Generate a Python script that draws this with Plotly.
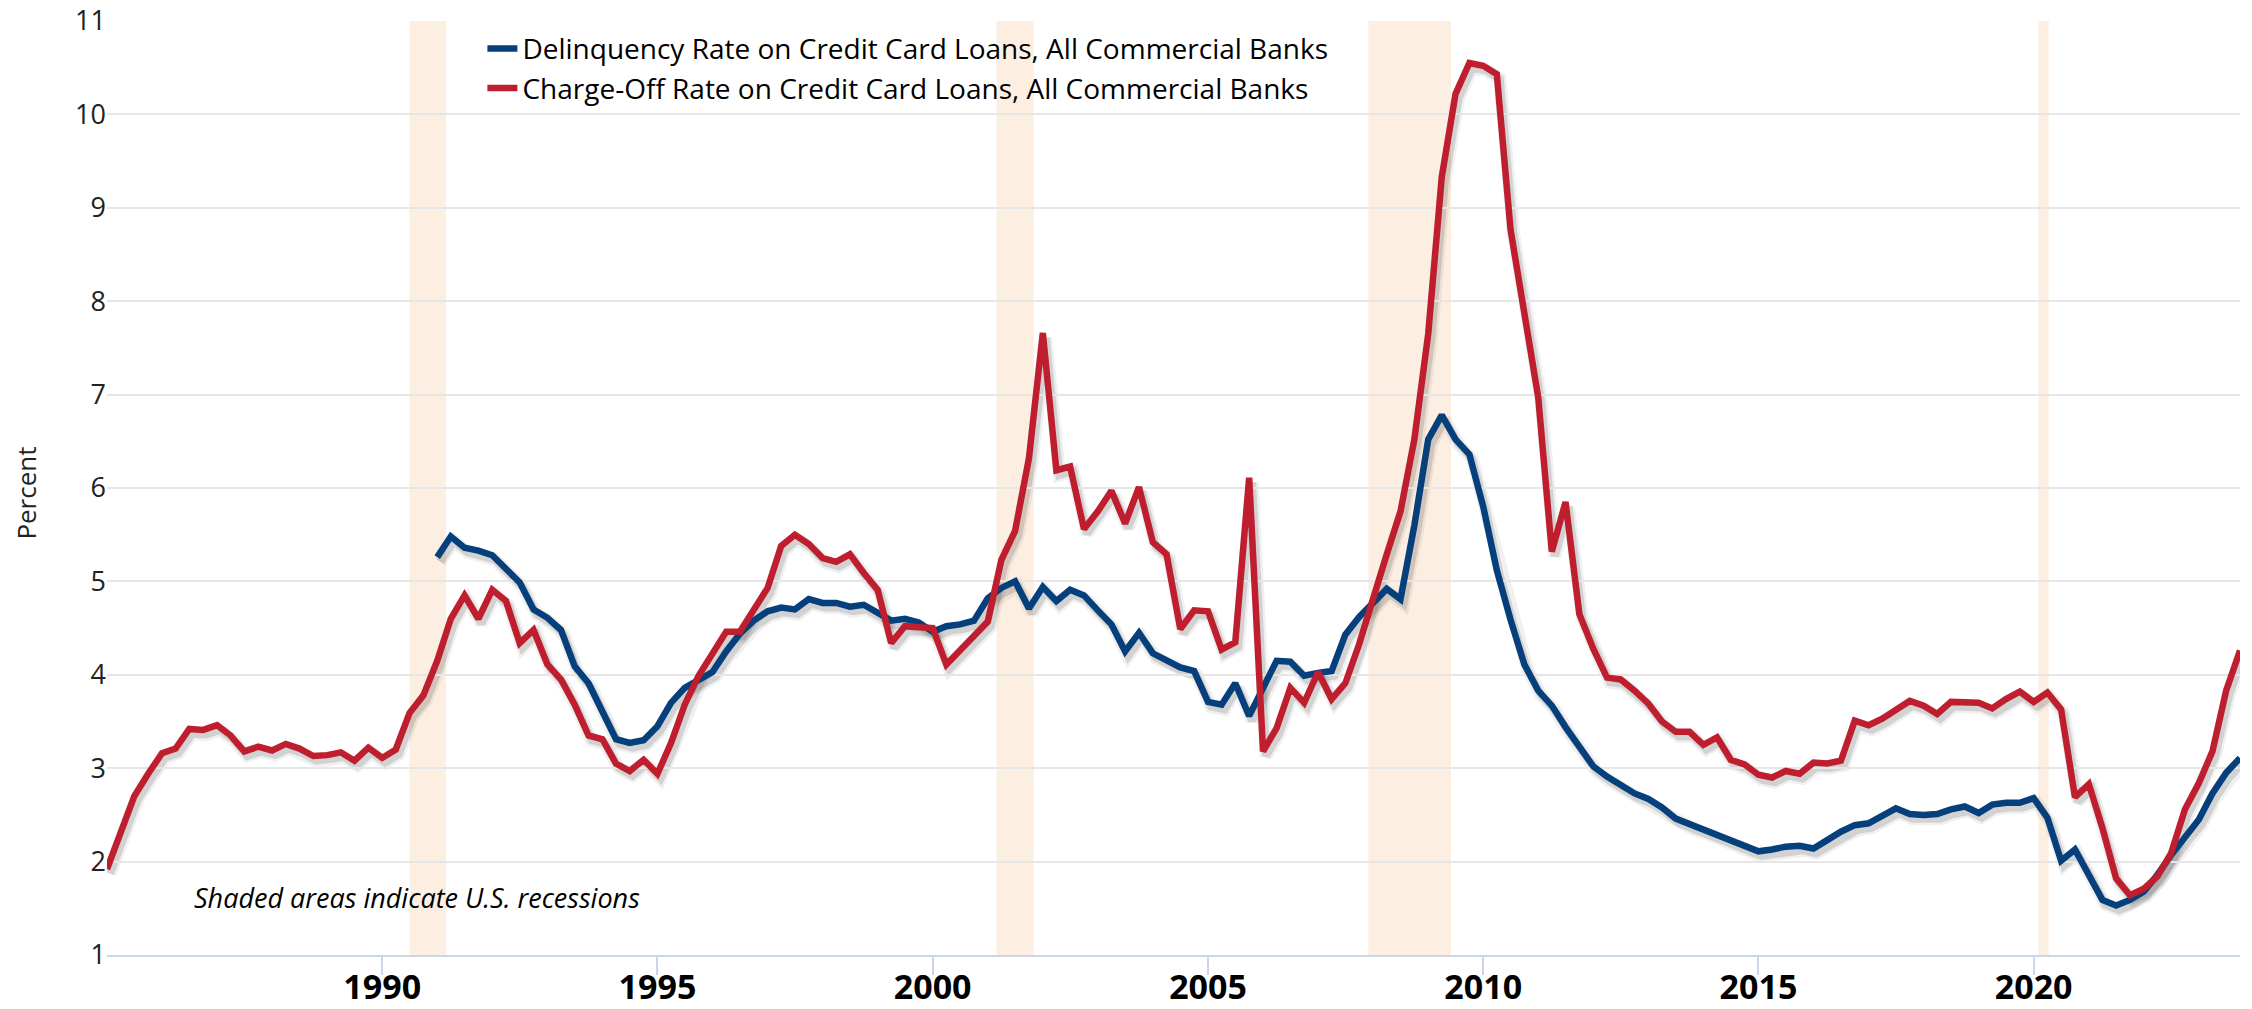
import pandas as pd
import plotly.graph_objects as go

# ---------------- data (quarterly) ----------------
quarters = pd.date_range("1985-01-01", "2023-10-01", freq="QS").strftime("%Y-%m-%d").tolist()

charge_off = [
    1.92, 2.29, 2.70, 2.94,   # 1985
    3.16, 3.21, 3.42, 3.41,   # 1986
    3.46, 3.35, 3.18, 3.23,   # 1987
    3.19, 3.26, 3.21, 3.13,   # 1988
    3.14, 3.17, 3.08, 3.22,   # 1989
    3.11, 3.20, 3.59, 3.78,   # 1990
    4.15, 4.60, 4.85, 4.60,   # 1991
    4.91, 4.79, 4.34, 4.48,   # 1992
    4.11, 3.95, 3.68, 3.35,   # 1993
    3.31, 3.05, 2.97, 3.09,   # 1994
    2.94, 3.27, 3.68, 3.99,   # 1995
    4.23, 4.46, 4.46, 4.68,   # 1996
    4.93, 5.38, 5.50, 5.40,   # 1997
    5.25, 5.21, 5.29, 5.09,   # 1998
    4.91, 4.34, 4.52, 4.51,   # 1999
    4.50, 4.11, 4.27, 4.42,   # 2000
    4.57, 5.23, 5.54, 6.32,   # 2001
    7.66, 6.19, 6.23, 5.56,   # 2002
    5.75, 5.97, 5.62, 6.01,   # 2003
    5.42, 5.29, 4.49, 4.69,   # 2004
    4.68, 4.27, 4.35, 6.11,   # 2005
    3.18, 3.43, 3.86, 3.70,   # 2006
    4.03, 3.74, 3.91, 4.33,   # 2007
    4.83, 5.29, 5.75, 6.52,   # 2008
    7.65, 9.33, 10.22, 10.55, # 2009
    10.52, 10.43, 8.77, 7.87, # 2010
    6.97, 5.32, 5.85, 4.65,   # 2011
    4.28, 3.97, 3.95, 3.83,   # 2012
    3.69, 3.50, 3.39, 3.39,   # 2013
    3.25, 3.33, 3.09, 3.04,   # 2014
    2.93, 2.90, 2.97, 2.94,   # 2015
    3.06, 3.05, 3.08, 3.51,   # 2016
    3.46, 3.53, 3.63, 3.72,   # 2017
    3.67, 3.58, 3.71, 3.70,   # 2018
    3.70, 3.64, 3.74, 3.82,   # 2019
    3.71, 3.81, 3.63, 2.69,   # 2020
    2.83, 2.36, 1.82, 1.64,   # 2021
    1.71, 1.84, 2.09, 2.56,   # 2022
    2.84, 3.18, 3.83, 4.26,   # 2023
]

delinquency_quarters = quarters[24:]  # series starts 1991 Q1
delinquency = [
    5.26, 5.48, 5.36, 5.33,   # 1991
    5.28, 5.13, 4.99, 4.70,   # 1992
    4.61, 4.48, 4.09, 3.91,   # 1993
    3.62, 3.31, 3.27, 3.30,   # 1994
    3.45, 3.70, 3.86, 3.95,   # 1995
    4.03, 4.25, 4.44, 4.58,   # 1996
    4.68, 4.72, 4.70, 4.81,   # 1997
    4.77, 4.77, 4.73, 4.75,   # 1998
    4.66, 4.58, 4.60, 4.56,   # 1999
    4.46, 4.52, 4.54, 4.58,   # 2000
    4.82, 4.93, 5.00, 4.71,   # 2001
    4.94, 4.79, 4.91, 4.85,   # 2002
    4.69, 4.54, 4.25, 4.45,   # 2003
    4.23, 4.16, 4.08, 4.04,   # 2004
    3.71, 3.68, 3.91, 3.56,   # 2005
    3.85, 4.15, 4.14, 3.99,   # 2006
    4.02, 4.04, 4.43, 4.62,   # 2007
    4.77, 4.92, 4.81, 5.60,   # 2008
    6.52, 6.78, 6.52, 6.36,   # 2009
    5.80, 5.12, 4.59, 4.11,   # 2010
    3.83, 3.67, 3.44, 3.22,   # 2011
    3.02, 2.91, 2.82, 2.73,   # 2012
    2.67, 2.58, 2.46, 2.40,   # 2013
    2.35, 2.30, 2.24, 2.17,   # 2014
    2.11, 2.13, 2.16, 2.17,   # 2015
    2.14, 2.23, 2.32, 2.39,   # 2016
    2.41, 2.49, 2.57, 2.51,   # 2017
    2.50, 2.51, 2.56, 2.59,   # 2018
    2.52, 2.61, 2.63, 2.63,   # 2019
    2.68, 2.47, 2.01, 2.13,   # 2020
    1.87, 1.59, 1.53, 1.59,   # 2021
    1.68, 1.86, 2.07, 2.27,   # 2022
    2.45, 2.73, 2.95, 3.11,   # 2023
]

recession_starts = ["1990-07-01", "2001-03-01", "2007-12-01", "2020-02-01"]
recession_ends = ["1991-03-01", "2001-11-01", "2009-06-01", "2020-04-10"]

series_names = [
    "Delinquency Rate on Credit Card Loans, All Commercial Banks",
    "Charge-Off Rate on Credit Card Loans, All Commercial Banks",
]
series_colors = ["#053f7c", "#be1e2d"]

tick_years = ["1990", "1995", "2000", "2005", "2010", "2015", "2020"]
y_ticks = [1, 2, 3, 4, 5, 6, 7, 8, 9, 10, 11]

x_range = ["1985-01-01", "2023-10-01"]
y_range = [1, 11]

FONT = "Open Sans, sans-serif"

# ---------------- figure ----------------
fig = go.Figure()

xs = [delinquency_quarters, quarters]
ys = [delinquency, charge_off]

# soft drop shadows (drawn on a hidden, slightly offset copy of the axes)
for x, y in zip(xs, ys):
    fig.add_trace(go.Scatter(x=x, y=y, mode="lines", xaxis="x", yaxis="y",
                             line=dict(color="rgba(0,0,0,0.06)", width=13),
                             hoverinfo="skip", showlegend=False))
    fig.add_trace(go.Scatter(x=x, y=y, mode="lines", xaxis="x", yaxis="y",
                             line=dict(color="rgba(0,0,0,0.12)", width=8),
                             hoverinfo="skip", showlegend=False))

for x, y, name, color in zip(xs, ys, series_names, series_colors):
    fig.add_trace(go.Scatter(x=x, y=y, mode="lines", name=name,
                             xaxis="x2", yaxis="y2",
                             line=dict(color=color, width=6.5)))

for s, e in zip(recession_starts, recession_ends):
    fig.add_shape(type="rect", xref="x2", yref="paper", x0=s, x1=e, y0=0, y1=1,
                  fillcolor="#fcefe2", line=dict(width=0), layer="below")

shift_days = pd.Timedelta(days=20)
shadow_x_range = [(pd.Timestamp(v) - shift_days).strftime("%Y-%m-%d") for v in x_range]
shadow_y_range = [y_range[0] + 0.05, y_range[1] + 0.05]

fig.update_layout(
    width=2252, height=1009,
    margin=dict(l=107, r=12, t=21, b=54, autoexpand=False),
    paper_bgcolor="white",
    plot_bgcolor="rgba(0,0,0,0)",
    font=dict(family=FONT, color="#000000"),
    xaxis=dict(domain=[0, 1], anchor="y", type="date", range=shadow_x_range,
               visible=False, fixedrange=True, automargin=False),
    yaxis=dict(domain=[0, 1], anchor="x", range=shadow_y_range,
               visible=False, fixedrange=True, automargin=False),
    xaxis2=dict(domain=[0, 1], anchor="y2", type="date", range=x_range,
                tickvals=[f"{yr}-01-01" for yr in tick_years], ticktext=tick_years,
                ticks="outside", ticklen=18, tickwidth=1.5, tickcolor="#ccd6eb",
                ticklabelstandoff=-17,
                showline=True, linecolor="#ccd6eb", linewidth=2,
                showgrid=False, zeroline=False, automargin=False,
                tickfont=dict(family=FONT, size=34, color="#000000", weight="bold")),
    yaxis2=dict(domain=[0, 1], anchor="x2", range=y_range,
                tickvals=y_ticks, showgrid=True, gridcolor="#e6e6e6", gridwidth=1.5,
                zeroline=False, showline=False, ticks="", automargin=False,
                tickfont=dict(family=FONT, size=27, color="#222222")),
    legend=dict(x=0.176, y=0.997, xanchor="left", yanchor="top",
                bgcolor="rgba(0,0,0,0)", font=dict(family=FONT, size=28, color="#000000"),
                tracegroupgap=0, itemwidth=30),
    showlegend=True,
    annotations=[
        dict(text="Shaded areas indicate U.S. recessions", xref="paper", yref="paper",
             x=0.0398, y=0.062, xanchor="left", yanchor="middle", showarrow=False,
             font=dict(family=FONT, size=27, style="italic", color="#000000")),
        dict(text="Percent", xref="paper", yref="paper", x=-0.038, y=0.495,
             xanchor="center", yanchor="middle", textangle=-90, showarrow=False,
             font=dict(family=FONT, size=26, color="#222222")),
    ],
)

fig.write_html("out.html",
               config={"displayModeBar": False},
               post_script="document.body.style.margin='0';document.body.style.overflow='hidden';")
